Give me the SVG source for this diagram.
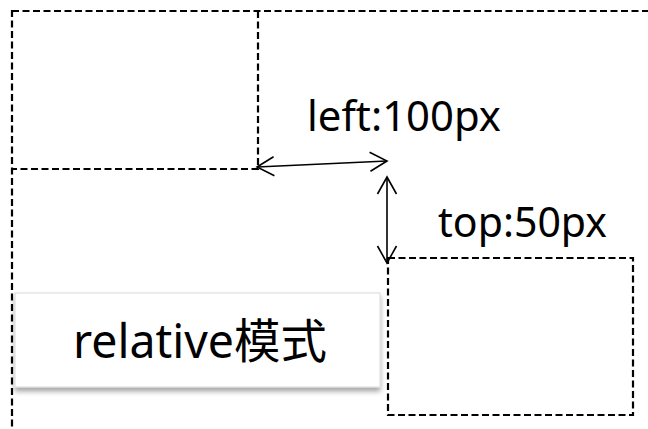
<svg xmlns="http://www.w3.org/2000/svg" width="648" height="429" viewBox="0 0 648 429">
<style>
.dash{fill:none;stroke:#000;stroke-width:2.2;stroke-dasharray:7 3.5}
.arrow{fill:none;stroke:#000;stroke-width:1.6;marker-start:url(#ah);marker-end:url(#ah)}
.txt{font-family:"Noto Sans","Noto Sans CJK SC",sans-serif;fill:#000}
</style>
<defs>
<marker id="ah" markerUnits="userSpaceOnUse" markerWidth="20" markerHeight="22" refX="17" refY="10" orient="auto-start-reverse" overflow="visible">
<path d="M0,0.5 L17,10 L0,19.5" fill="none" stroke="#000" stroke-width="1.6"/>
</marker>
<filter id="sh" x="-10%" y="-20%" width="120%" height="150%">
<feDropShadow dx="0" dy="4" stdDeviation="2.5" flood-color="#000" flood-opacity="0.35"/>
</filter>
</defs>
<rect width="648" height="429" fill="#fff"/>
<g id="outer">
<rect class="dash" x="12" y="11" width="700" height="500"/>
</g>
<g id="box-original">
<path class="dash" d="M258,11 V169 H12"/>
</g>
<g id="box-moved">
<rect class="dash" x="388" y="258" width="245" height="157"/>
</g>
<g id="label-left">
<text class="txt" x="307" y="131" font-size="41" textLength="194" lengthAdjust="spacingAndGlyphs">left:100px</text>
</g>
<g id="label-top">
<text class="txt" x="438" y="237" font-size="41" textLength="169" lengthAdjust="spacingAndGlyphs">top:50px</text>
</g>
<g id="title">
<rect x="15" y="293" width="365" height="94" fill="#fff" stroke="#d9d9d9" stroke-width="1" filter="url(#sh)"/>
<text class="txt" x="73" y="358" font-size="47" textLength="254" lengthAdjust="spacingAndGlyphs">relative模式</text>
</g>
<g id="connectors">
<line class="arrow" x1="257" y1="167" x2="387" y2="161"/>
<line class="arrow" x1="387" y1="177" x2="387" y2="263"/>
</g>
</svg>
